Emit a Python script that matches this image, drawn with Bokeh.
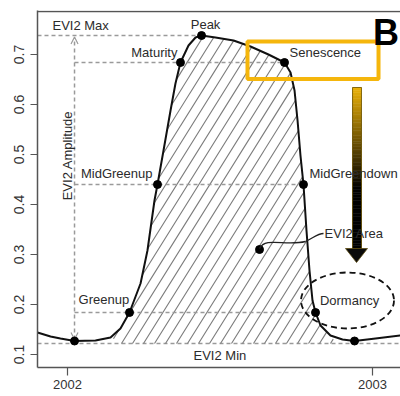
import numpy as np
from bokeh.plotting import figure
from bokeh.models import FixedTicker, Span, Label, Arrow, OpenHead, Range1d
from bokeh.embed import file_html
from bokeh.resources import INLINE

# ---------------- data (days since 2002-01-01, EVI2) ----------------
curve_day = [-35.9, -20.3, -8.4, 8.4, 33.5, 51.5, 63.4, 74.2, 87.4, 95.7,
             104.1, 107.7, 114.9, 123.3, 129.2, 135.2, 144.8, 153.2, 160.4,
             177.1, 198.7, 219.0, 240.5, 259.7, 266.9, 271.7, 275.3, 278.8,
             282.4, 286.0, 289.6, 293.2, 296.8, 302.8, 314.7, 329.1, 343.5,
             368.6, 398.5]
curve_evi2 = [0.144, 0.136, 0.132, 0.127, 0.128, 0.134, 0.152, 0.184, 0.242,
              0.308, 0.408, 0.440, 0.508, 0.588, 0.642, 0.684, 0.718, 0.734,
              0.738, 0.734, 0.728, 0.716, 0.700, 0.684, 0.664, 0.628, 0.568,
              0.498, 0.440, 0.348, 0.268, 0.208, 0.184, 0.158, 0.138, 0.130,
              0.127, 0.132, 0.138]

pheno_names = ["Greenup", "MidGreenup", "Maturity", "Peak",
               "Senescence", "MidGreendown", "Dormancy"]
pheno_day = [74.2, 107.7, 135.2, 160.4, 259.7, 282.4, 296.8]
pheno_evi2 = [0.184, 0.440, 0.684, 0.738, 0.684, 0.440, 0.184]

min_day = [8.4, 343.5]
min_evi2 = [0.127, 0.127]
evi2_min = 0.122
evi2_max = 0.738
area_day = [229.8]
area_evi2 = [0.31]
hatch_start_day = 55.0
hatch_end_day = 318.0

y_ticks = [0.1, 0.2, 0.3, 0.4, 0.5, 0.6, 0.7]
x_tick_days = [0, 365]
x_tick_labels = ["2002", "2003"]

FONT = "Liberation Sans"
GREY = "#9a9a9a"
GOLD = "#F5B60C"
TXT = "#2b2b2b"

W, H = 400, 396
BL, BR, BT, BB = 37, 0, 10, 29
X0, X1 = -35.9, 398.5
Y0, Y1 = 0.074, 0.788
p = figure(width=W, height=H, x_range=Range1d(X0, X1),
           y_range=Range1d(Y0, Y1), output_backend="svg",
           toolbar_location=None, min_border_left=BL, min_border_right=BR,
           min_border_top=BT, min_border_bottom=BB)
p.outline_line_color = None
p.grid.visible = False
p.background_fill_color = "white"

# axes
for ax in (p.xaxis[0], p.yaxis[0]):
    ax.axis_line_color = "#555555"
    ax.axis_line_width = 1.5
    ax.major_tick_line_color = "#555555"
    ax.major_tick_line_width = 1.2
    ax.major_tick_in = 0
    ax.minor_tick_line_color = None
    ax.major_label_text_font = FONT
    ax.major_label_text_color = "#333333"
p.yaxis.ticker = FixedTicker(ticks=y_ticks)
p.yaxis.major_label_orientation = "vertical"
p.yaxis.major_tick_out = 7
p.yaxis.major_label_standoff = 7
p.yaxis.major_label_text_font_size = "14px"
p.xaxis.ticker = FixedTicker(ticks=x_tick_days)
p.xaxis.major_label_overrides = {d: l for d, l in zip(x_tick_days, x_tick_labels)}
p.xaxis.major_tick_out = 8
p.xaxis.major_label_standoff = 4
p.xaxis.major_label_text_font_size = "13px"

# top frame line
p.add_layout(Span(location=0.786, dimension="width", line_color="#555555",
                  line_width=1.5))

# hatched area between curve and EVI2 min (steep diagonal lines, clipped)
cd = np.array(curve_day)
cv = np.array(curve_evi2)
sx = (W - BL - BR) / (X1 - X0)        # px per day
sy = (H - BT - BB) / (Y1 - Y0)        # px per EVI2 unit
theta = np.deg2rad(58)
step_px = 11.0
hx0, hy0, hx1, hy1 = [], [], [], []
ts = np.linspace(0, 420, 8401)        # px along each hatch line
b = hatch_start_day - 400 * np.cos(theta) / sx
while b <= hatch_end_day:
    xs = b + ts * np.cos(theta) / sx
    ys = evi2_min + ts * np.sin(theta) / sy
    inside = ((ys < np.interp(xs, cd, cv)) & (xs >= hatch_start_day)
              & (xs <= hatch_end_day))
    d = np.diff(np.concatenate([[0], inside.astype(int), [0]]))
    starts = np.where(d == 1)[0]
    ends = np.where(d == -1)[0] - 1
    for s0, e0 in zip(starts, ends):
        if e0 > s0:
            hx0.append(xs[s0]); hy0.append(ys[s0])
            hx1.append(xs[e0]); hy1.append(ys[e0])
    b += step_px / sx
p.segment(x0=hx0, y0=hy0, x1=hx1, y1=hy1, line_color="#7a7a7a",
          line_width=1.1)

# dashed reference lines
amp_x = min_day[0]
pk = pheno_names.index("Peak")
se = pheno_names.index("Senescence")
mg = pheno_names.index("MidGreendown")
do = pheno_names.index("Dormancy")
p.segment(x0=[X0, amp_x, amp_x, amp_x],
          y0=[evi2_max, pheno_evi2[se], pheno_evi2[mg], pheno_evi2[do]],
          x1=[pheno_day[pk], pheno_day[se], pheno_day[mg], pheno_day[do]],
          y1=[evi2_max, pheno_evi2[se], pheno_evi2[mg], pheno_evi2[do]],
          line_color=GREY, line_dash="4 3", line_width=1.5)
p.add_layout(Span(location=evi2_min, dimension="width", line_color=GREY,
                  line_dash="4 3", line_width=1.5, level="underlay"))
p.add_layout(Arrow(x_start=amp_x, y_start=evi2_min + 0.008, x_end=amp_x,
                   y_end=evi2_max - 0.003,
                   start=OpenHead(size=7, line_color=GREY, line_width=1.2),
                   end=OpenHead(size=7, line_color=GREY, line_width=1.2),
                   line_color=GREY, line_dash="4 3", line_width=1.5,
                   level="underlay"))

# curve and points
p.line(curve_day, curve_evi2, line_color="#111111", line_width=2)
p.scatter(pheno_day, pheno_evi2, size=8, color="#000000")
p.scatter(min_day, min_evi2, size=8, color="#000000")
p.scatter(area_day, area_evi2, size=8, color="#000000")

# connector for EVI2 Area
p.bezier(x0=[229.8, 284.8], y0=[0.312, 0.326], x1=[284.8, 306.4],
         y1=[0.326, 0.342], cx0=[237.0, 293.2], cy0=[0.336, 0.332],
         cx1=[260.9, 299.2], cy1=[0.316, 0.342], line_color="#222222",
         line_width=1.3)

# Senescence box
p.quad(left=[215.4], right=[372.2], top=[0.726], bottom=[0.651],
       fill_color=None, line_color=GOLD, line_width=4)

# Dormancy ellipse
p.ellipse(x=[335.1], y=[0.208], width=93, height=56, width_units="screen",
          height_units="screen", fill_color=None, line_color="#111111",
          line_dash="6 4", line_width=1.8)

# labels
def lab(x, y, t, align="left", size="13px", angle=0.0, **kw):
    p.add_layout(Label(x=x, y=y, text=t, text_font=FONT, text_font_size=size,
                       text_color=kw.pop("color", TXT), text_align=align,
                       text_baseline="middle", angle=angle, **kw))

lab(-18.0, 0.758, "EVI2 Max")
lab(165.2, 0.760, "Peak", "center")
lab(131.6, 0.704, "Maturity", "right")
lab(265.7, 0.704, "Senescence")
lab(101.7, 0.462, "MidGreenup", "right")
lab(289.6, 0.462, "MidGreendown")
lab(13.2, 0.210, "Greenup")
lab(337.5, 0.208, "Dormancy", "center")
lab(307.6, 0.342, "EVI2 Area")
lab(150.8, 0.098, "EVI2 Min")
lab(0.0, 0.498, "EVI2 Amplitude", "center", angle=np.pi / 2)
lab(365.5, 0.745, "B", size="36px", color="#000000", text_font_style="bold")

# gradient arrow (gold -> black)
top_v, bar_bot_v, black_v = 0.634, 0.312, 0.43
edges = np.linspace(top_v, bar_bot_v, 61)
mids = (edges[:-1] + edges[1:]) / 2
t = np.clip((top_v - mids) / (top_v - black_v), 0, 1)
gold = np.array([236, 178, 10])
cols = ["#%02x%02x%02x" % tuple((gold * (1 - tt)).astype(int)) for tt in t]
p.quad(left=341.1, right=351.8, top=edges[:-1], bottom=edges[1:],
       fill_color=cols, line_color=cols, line_width=0.5)
p.quad(left=[341.1], right=[351.8], top=[top_v], bottom=[bar_bot_v],
       fill_color=None, line_color="#6b5200", line_width=0.8)
p.patch([332.7, 359.0, 345.9], [bar_bot_v, bar_bot_v, 0.284],
        fill_color="#0a0a0a", line_color="#5a4a10", line_width=0.8)

open("out.html", "w").write(file_html(p, INLINE))
